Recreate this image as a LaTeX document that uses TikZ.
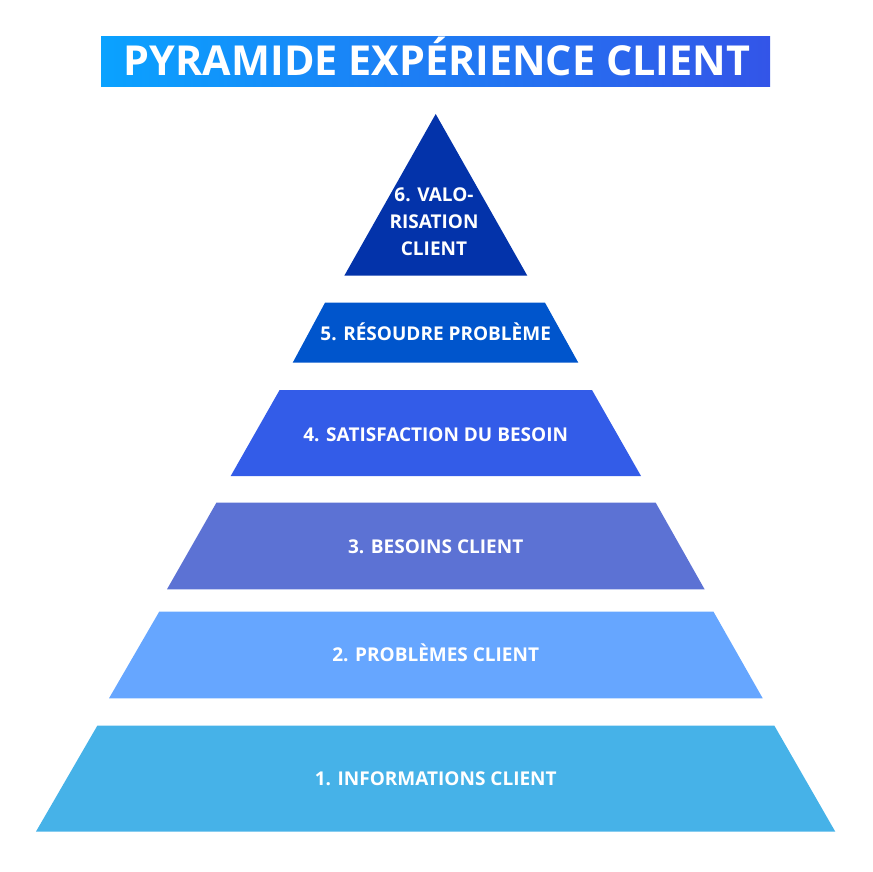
\documentclass[tikz,border=0pt]{standalone}
\usepackage{fontspec}
\setmainfont{Open Sans}
\definecolor{titleleft}{HTML}{0AA2FF}
\definecolor{titleright}{HTML}{3355E8}
\definecolor{levelsix}{HTML}{0333AA}
\definecolor{levelfive}{HTML}{0055CC}
\definecolor{levelfour}{HTML}{335CE8}
\definecolor{levelthree}{HTML}{5C72D4}
\definecolor{leveltwo}{HTML}{66A6FF}
\definecolor{levelone}{HTML}{46B2E8}
\begin{document}
\begin{tikzpicture}[x=1pt, y=-1pt, lbl/.style={text=white, font=\bfseries\fontsize{19}{26.7}\selectfont, inner sep=0pt}]
	\useasboundingbox (0,0) rectangle (872,872);

	\shade[left color=titleleft, right color=titleright] (101,36.7) rectangle (770,86.7);
	\node[lbl, anchor=base, font=\bfseries\fontsize{41.3}{48}\selectfont] (title) at (437,75.7) {PYRAMIDE EXPÉRIENCE CLIENT};

	\fill[levelsix] (435.7,114) -- (527.3,275.7) -- (344.3,275.7) -- cycle;
	\fill[levelfive] (325,302.7) -- (545,302.7) -- (578.3,362.7) -- (292.7,362.7) -- cycle;
	\fill[levelfour] (279.6,390) -- (592,390) -- (641,476) -- (230.7,476) -- cycle;
	\fill[levelthree] (216.4,502.7) -- (655.7,502.7) -- (704.6,589.3) -- (167,589.3) -- cycle;
	\fill[leveltwo] (159.2,611.7) -- (713.5,611.7) -- (762.7,698.3) -- (109,698.3) -- cycle;
	\fill[levelone] (97.3,725.7) -- (774.4,725.7) -- (835.3,831.7) -- (35.9,831.7) -- cycle;

	\node[lbl, align=center] (six) at (434,221.7) {6. VALO-\\RISATION\\CLIENT};
	\node[lbl, anchor=base] (five) at (435.7,340) {5. RÉSOUDRE PROBLÈME};
	\node[lbl, anchor=base] (four) at (435.7,441.7) {4. SATISFACTION DU BESOIN};
	\node[lbl, anchor=base] (three) at (435.7,553.3) {3. BESOINS CLIENT};
	\node[lbl, anchor=base] (two) at (435.7,661) {2. PROBLÈMES CLIENT};
	\node[lbl, anchor=base] (one) at (435.7,785) {1. INFORMATIONS CLIENT};
\end{tikzpicture}
\end{document}
